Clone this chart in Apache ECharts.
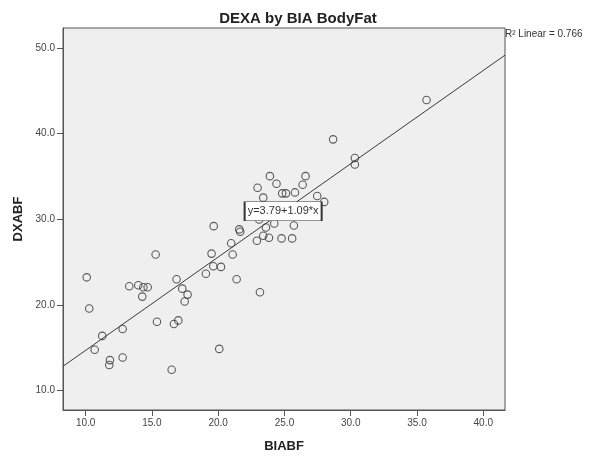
<!DOCTYPE html>
<html>
<head>
<meta charset="utf-8">
<script src="https://cdn.jsdelivr.net/npm/echarts@6/dist/echarts.min.js"></script>
<style>
html,body{margin:0;padding:0;background:#fff;}
#chart{width:596px;height:458px;}
</style>
</head>
<body>
<div id="chart"></div>
<script>
// Data
var biabf = [10.08,10.27,10.68,11.25,11.83,11.78,12.79,12.79,13.29,13.97,14.35,14.68,14.27,15.28,15.38,16.49,16.66,16.99,16.86,17.29,17.69,17.47,19.07,19.50,19.66,19.63,20.21,20.08,20.98,21.09,21.39,21.59,21.66,22.92,23.15,23.90,26.59,24.40,26.37,22.97,24.83,25.11,25.79,23.40,27.47,28.00,23.09,23.60,24.23,25.71,23.40,23.83,24.78,25.58,35.72,28.67,30.31,30.31];
var dxabf = [23.22,19.58,14.76,16.38,13.55,12.97,13.86,17.19,22.17,22.29,22.06,22.06,20.97,25.88,18.03,12.43,17.77,18.19,22.99,21.90,21.20,20.39,23.63,25.99,29.20,24.52,24.44,14.86,27.20,25.88,22.99,28.82,28.55,27.50,21.48,35.04,35.04,34.15,34.04,33.69,33.03,33.03,33.14,32.53,32.72,32.03,29.98,29.05,29.51,29.28,28.08,27.85,27.77,27.77,43.93,39.34,37.17,36.40];
var fitIntercept = 3.79;
var fitSlope = 1.09;
var rSquared = 0.766;
var xTicks = [10,15,20,25,30,35,40];
var yTicks = [10,20,30,40,50];
var xRange = [8.29, 41.64];
var yRange = [7.72, 52.35];
var labelX = 24.9;

var FONT = 'Arial, "Liberation Sans", sans-serif';
var points = biabf.map(function(x, i){ return [x, dxabf[i]]; });
var fitLine = xRange.map(function(x){ return [x, fitIntercept + fitSlope * x]; });

var chart = echarts.init(document.getElementById('chart'), null, {renderer:'canvas'});
chart.setOption({
  animation: false,
  backgroundColor: '#ffffff',
  textStyle: {fontFamily: FONT},
  grid: {left: 63, right: 91, top: 28, bottom: 45, show: true,
         backgroundColor: '#efefef', borderColor: '#555', borderWidth: 1},
  title: {
    text: 'DEXA by BIA BodyFat', left: 293, top: 6, textAlign: 'center',
    textStyle: {fontFamily: FONT, fontSize: 15, fontWeight: 'bold', color: '#222'}
  },
  graphic: [{
    type: 'text', left: 505, top: 29,
    style: {text: 'R\u00b2 Linear = ' + rSquared.toFixed(3), font: '10px ' + FONT, fill: '#333'}
  }],
  xAxis: {
    type: 'value', min: xRange[0], max: xRange[1],
    name: 'BIABF', nameLocation: 'middle', nameGap: 30,
    nameTextStyle: {fontFamily: FONT, fontSize: 13, fontWeight: 'bold', color: '#222'},
    splitLine: {show: false},
    axisLine: {show: true, lineStyle: {color: '#555', width: 1}},
    axisTick: {show: true, length: 6, customValues: xTicks, lineStyle: {color: '#555'}},
    axisLabel: {customValues: xTicks, margin: 8, fontSize: 10, color: '#444', fontFamily: FONT,
                formatter: function(v){ return v.toFixed(1); }}
  },
  yAxis: {
    type: 'value', min: yRange[0], max: yRange[1],
    name: 'DXABF', nameLocation: 'middle', nameGap: 35,
    nameTextStyle: {fontFamily: FONT, fontSize: 13, fontWeight: 'bold', color: '#222'},
    splitLine: {show: false},
    axisLine: {show: true, lineStyle: {color: '#555', width: 1}},
    axisTick: {show: true, length: 6, customValues: yTicks, lineStyle: {color: '#555'}},
    axisLabel: {customValues: yTicks, margin: 8, fontSize: 10, color: '#444', fontFamily: FONT,
                formatter: function(v){ return v.toFixed(1); }}
  },
  series: [
    {
      type: 'scatter', data: points, symbol: 'circle', symbolSize: 7.5, z: 2,
      itemStyle: {color: 'rgba(0,0,0,0)', borderColor: '#333', borderWidth: 1.1}
    },
    {
      type: 'line', data: fitLine, showSymbol: false, symbol: 'none', z: 3, clip: true,
      lineStyle: {color: '#3a3a3a', width: 1},
      markPoint: {
        symbol: 'rect', symbolSize: [77, 19], z: 5,
        itemStyle: {color: '#ffffff', borderColor: '#333', borderWidth: 1},
        label: {show: true, position: 'inside', fontSize: 11, color: '#333', fontFamily: FONT,
                formatter: 'y=' + fitIntercept.toFixed(2) + '+' + fitSlope.toFixed(2) + '*x'},
        data: [{coord: [labelX, fitIntercept + fitSlope * labelX]}]
      }
    }
  ]
});
</script>
</body>
</html>
